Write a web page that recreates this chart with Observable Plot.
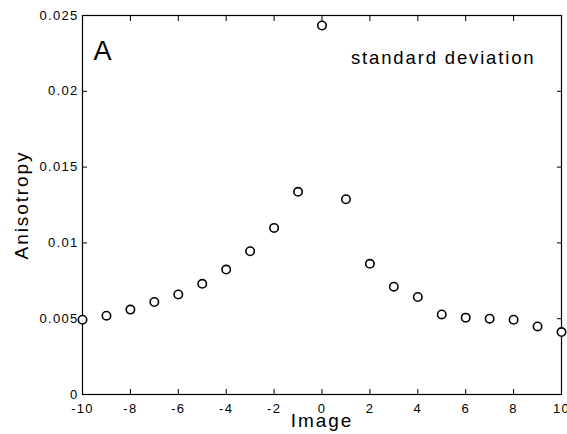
<!DOCTYPE html>
<html>
<head>
<meta charset="utf-8">
<script src="https://cdn.jsdelivr.net/npm/d3@7"></script>
<script src="https://cdn.jsdelivr.net/npm/@observablehq/plot@0.6"></script>
<style>
  html, body { margin: 0; padding: 0; background: #fff; }
  svg text { letter-spacing: 0.1em; }
</style>
</head>
<body>
<div id="chart"></div>
<script>
const images = [-10, -9, -8, -7, -6, -5, -4, -3, -2, -1, 0, 1, 2, 3, 4, 5, 6, 7, 8, 9, 10];
const anisotropy = [0.00493, 0.0052, 0.0056, 0.0061, 0.0066, 0.0073, 0.00824, 0.00945, 0.01099, 0.01337,
                    0.02434, 0.01288, 0.00862, 0.00711, 0.00643, 0.00528, 0.00507, 0.0050, 0.00493, 0.00449, 0.00412];
const xTicks = [-10, -8, -6, -4, -2, 0, 2, 4, 6, 8, 10];
const yTicks = [0, 0.005, 0.01, 0.015, 0.02, 0.025];
const yTickLabels = ["0", "0.005", "0.01", "0.015", "0.02", "0.025"];
const panelLabel = "A";
const statLabel = "standard deviation";
const xLabel = "Image";
const yLabel = "Anisotropy";

const data = images.map((x, i) => ({x, y: anisotropy[i]}));

const chart = Plot.plot({
  width: 567,
  height: 434,
  marginLeft: 82,
  marginRight: 6,
  marginTop: 15,
  marginBottom: 40,
  style: {fontFamily: "Arial, 'Liberation Sans', Helvetica, sans-serif", color: "black", background: "white"},
  x: {domain: [-10, 10]},
  y: {domain: [0, 0.025]},
  marks: [
    Plot.frame({stroke: "black", strokeWidth: 1.2}),
    Plot.axisX(xTicks, {anchor: "bottom", tickSize: -5, tickPadding: 14, fontSize: 13, label: null, tickFormat: d => String(d)}),
    Plot.axisX(xTicks, {anchor: "top", tickSize: -5, label: null, tickFormat: () => ""}),
    Plot.axisY(yTicks, {anchor: "left", tickSize: -5, tickPadding: 9, fontSize: 13, label: null, tickFormat: (d, i) => yTickLabels[i]}),
    Plot.axisY(yTicks, {anchor: "right", tickSize: -5, label: null, tickFormat: () => ""}),
    Plot.dot(data, {x: "x", y: "y", r: 4.2, stroke: "black", strokeWidth: 1.6, fill: "white"}),
    Plot.text([panelLabel], {frameAnchor: "top-left", text: d => d, textAnchor: "start", lineAnchor: "top", dx: 11, dy: 25, fontSize: 27, fill: "black"}),
    Plot.text([statLabel], {frameAnchor: "top-right", text: d => d, textAnchor: "end", lineAnchor: "top", dx: -26, dy: 35, fontSize: 18.5, fill: "black"}),
    Plot.text([xLabel], {frameAnchor: "bottom", text: d => d, textAnchor: "middle", lineAnchor: "bottom", dy: 32, fontSize: 19, fill: "black"}),
    Plot.text([yLabel], {frameAnchor: "left", text: d => d, textAnchor: "middle", lineAnchor: "bottom", rotate: -90, dx: -55, fontSize: 19, fill: "black"})
  ]
});
document.getElementById("chart").appendChild(chart);
</script>
</body>
</html>
